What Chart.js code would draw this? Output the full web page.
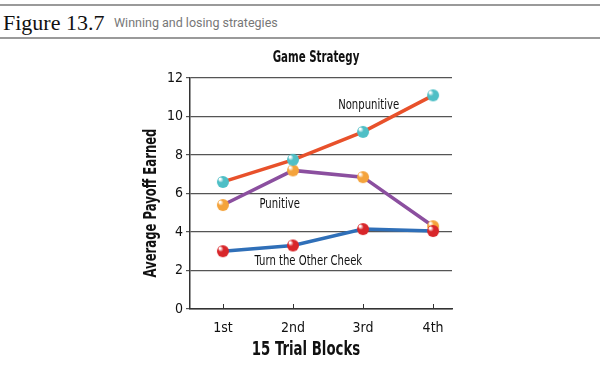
<!DOCTYPE html>
<html>
<head>
<meta charset="utf-8">
<script src="https://cdn.jsdelivr.net/npm/chart.js@4"></script>
<style>
  html, body { margin: 0; padding: 0; background: #fff; }
  body { width: 600px; height: 369px; overflow: hidden; position: relative; }
  .rule { position: absolute; left: 0; width: 600px; height: 2px; background: #9a9a9a; }
  .fig { position: absolute; left: 3px; top: 10px; white-space: nowrap;
         font-family: "Liberation Serif", serif; font-size: 22px; color: #111; }
  .sub { position: absolute; left: 114px; top: 15px; white-space: nowrap;
         font-family: Roboto, sans-serif; font-size: 12.5px; color: #777; }
  #wrap { position: absolute; left: 0; top: 40px; width: 600px; height: 329px; }
</style>
</head>
<body>
<div class="rule" style="top:4px"></div>
<span class="fig">Figure 13.7</span><span class="sub">Winning and losing strategies</span>
<div class="rule" style="top:37px"></div>
<div id="wrap"><canvas id="chart" width="600" height="329"></canvas></div>

<script>
// ---------- data ----------
const blocks = ["1st", "2nd", "3rd", "4th"];
const nonpunitive = [6.6, 7.75, 9.2, 11.1];
const punitive = [5.4, 7.2, 6.85, 4.3];
const otherCheek = [3.0, 3.3, 4.15, 4.05];
const yTicks = [0, 2, 4, 6, 8, 10, 12];

const condensed = '"DejaVu Sans Condensed", "DejaVu Sans", sans-serif';

// ---------- helper: shaded ball marker ----------
function ball(color, r) {
  const c = document.createElement("canvas");
  c.width = c.height = r * 2 + 2;
  const ctx = c.getContext("2d");
  const g = ctx.createRadialGradient(r - r * 0.35, r - r * 0.35, 1, r + 1, r + 1, r);
  g.addColorStop(0, "#ffffff");
  g.addColorStop(0.35, color);
  g.addColorStop(1, color);
  ctx.fillStyle = g;
  ctx.beginPath();
  ctx.arc(r + 1, r + 1, r, 0, Math.PI * 2);
  ctx.fill();
  return c;
}

// ---------- helper: narrow text (squeezed horizontally) ----------
function narrowText(ctx, text, x, y, font, sx, rot) {
  ctx.save();
  ctx.translate(x, y);
  if (rot) ctx.rotate(rot);
  ctx.scale(sx, 1);
  ctx.font = font;
  ctx.fillText(text, 0, 0);
  ctx.restore();
}

// ---------- plugin: titles, series labels, x tick marks ----------
const labelsPlugin = {
  id: "labels",
  afterDraw(chart) {
    const { ctx, scales: { x, y }, chartArea } = chart;
    ctx.save();
    ctx.strokeStyle = "#333";
    ctx.lineWidth = 1;
    blocks.forEach((b, i) => {
      const px = Math.round(x.getPixelForValue(i + 1)) + 0.5;
      ctx.beginPath();
      ctx.moveTo(px, chartArea.bottom);
      ctx.lineTo(px, chartArea.bottom - 5);
      ctx.stroke();
    });
    ctx.fillStyle = "#111";
    ctx.textAlign = "center";
    ctx.textBaseline = "middle";
    const mid = (chartArea.left + chartArea.right) / 2;
    narrowText(ctx, "Game Strategy", mid - 5, 18, "bold 15px " + condensed, 0.76);
    narrowText(ctx, "15 Trial Blocks", mid - 15, 310, "bold 20px " + condensed, 0.74);
    narrowText(ctx, "Average Payoff Earned", 151, (chartArea.top + chartArea.bottom) / 2 + 9.5,
      "bold 18px " + condensed, 0.72, -Math.PI / 2);
    const f = "14px " + condensed;
    narrowText(ctx, "Nonpunitive", x.getPixelForValue(3.08), y.getPixelForValue(10.6), f, 0.8);
    narrowText(ctx, "Punitive", x.getPixelForValue(1.81), y.getPixelForValue(5.45), f, 0.8);
    narrowText(ctx, "Turn the Other Cheek", x.getPixelForValue(2.22), y.getPixelForValue(2.45), f, 0.8);
    ctx.restore();
  }
};

function series(label, data, line, dot, order) {
  return {
    label,
    data: data.map((v, i) => ({ x: i + 1, y: v })),
    borderColor: line,
    borderWidth: 3.5,
    pointStyle: ball(dot, 6),
    pointRadius: 6,
    tension: 0,
    order
  };
}

new Chart(document.getElementById("chart"), {
  type: "line",
  data: {
    datasets: [
      series("Nonpunitive", nonpunitive, "#e8512b", "#4fbfc6", 1),
      series("Turn the Other Cheek", otherCheek, "#2f6fb8", "#d8262a", 2),
      series("Punitive", punitive, "#8b4f9f", "#f4a33c", 3)
    ]
  },
  options: {
    responsive: false,
    animation: false,
    events: [],
    layout: { padding: { left: 141, right: 148, top: 38, bottom: 0 } },
    plugins: { legend: { display: false }, tooltip: { enabled: false }, title: { display: false } },
    scales: {
      x: {
        type: "linear",
        min: 0.53,
        max: 4.27,
        afterBuildTicks: (s) => { s.ticks = blocks.map((b, i) => ({ value: i + 1 })); },
        afterFit: (s) => { s.height = 60; },
        ticks: {
          callback: (v) => blocks[v - 1],
          color: "#111",
          padding: 3,
          font: { family: condensed, size: 14 }
        },
        grid: { display: false },
        border: { display: true, color: "#333", width: 1.5 }
      },
      y: {
        min: 0,
        max: 12,
        afterBuildTicks: (s) => { s.ticks = yTicks.map((v) => ({ value: v })); },
        afterFit: (s) => { s.width = 49; },
        ticks: {
          color: "#111",
          padding: 3,
          font: { family: condensed, size: 14 }
        },
        grid: { color: "#555", lineWidth: 1.2, tickLength: 4, drawTicks: true },
        border: { display: true, color: "#333", width: 1.5 }
      }
    }
  },
  plugins: [labelsPlugin]
});
</script>
</body>
</html>
